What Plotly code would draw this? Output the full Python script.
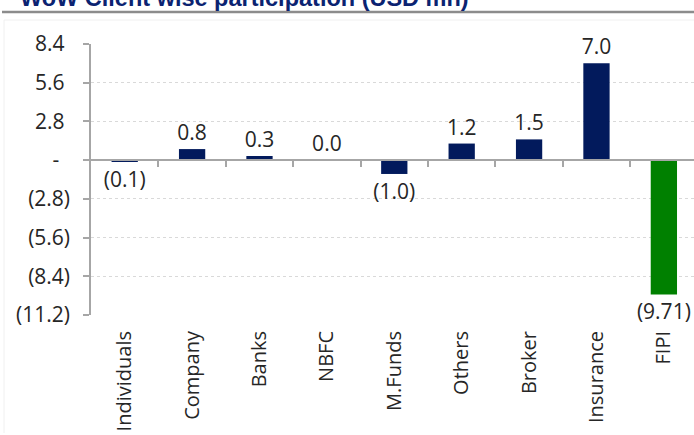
import plotly.graph_objects as go

# ---- data ----
categories = ["Individuals", "Company", "Banks", "NBFC", "M.Funds",
              "Others", "Broker", "Insurance", "FIPI"]
values = [-0.1, 0.8, 0.3, 0.0, -1.0, 1.2, 1.5, 7.0, -9.71]
decimals = [1, 1, 1, 1, 1, 1, 1, 1, 2]
ytick_vals = [8.4, 5.6, 2.8, 0, -2.8, -5.6, -8.4, -11.2]
ytick_text = ["8.4\u00a0", "5.6\u00a0", "2.8\u00a0", "-\u00a0\u00a0",
              "(2.8)", "(5.6)", "(8.4)", "(11.2)"]
title_text = "WoW Client wise participation (USD mn)"


def fmt(v, d):
    s = f"{abs(v):.{d}f}"
    return f"({s})" if v < 0 else s


labels = [fmt(v, d) for v, d in zip(values, decimals)]

NAVY = "#021a5c"
GREEN = "#008000"
colors = [GREEN if c == "FIPI" else NAVY for c in categories]
GREY = "#a6a6a6"
TXT = "#262626"
FONT = "Open Sans"

# pixel geometry
W, H = 694, 435
L, T, B = 91, 44, 120
PW, PH = W - L, H - T - B
ymin, ymax = -11.2, 8.4
zero_pos = (0 - ymin) / (ymax - ymin)

fig = go.Figure()
fig.add_trace(go.Bar(
    x=categories, y=values, marker=dict(color=colors, line=dict(width=0)),
    width=0.39, text=labels, textposition="outside", cliponaxis=False,
    constraintext="none",
    textfont=dict(family=FONT, size=21, color=TXT), hoverinfo="skip",
))
# invisible trace to carry the zero-line axis with its boundary ticks
fig.add_trace(go.Scatter(x=categories, y=[0] * len(categories), xaxis="x2",
                         mode="markers", marker=dict(opacity=0),
                         hoverinfo="skip", showlegend=False))

fig.update_layout(
    width=W, height=H,
    margin=dict(l=L, r=0, t=T, b=B, autoexpand=False),
    paper_bgcolor="white", plot_bgcolor="white",
    showlegend=False,
    font=dict(family=FONT, size=20, color=TXT),
    xaxis=dict(
        type="category", range=[-0.5, 8.447], showline=False, ticks="",
        showgrid=False, zeroline=False, tickangle=-90,
        tickfont=dict(family=FONT, size=20, color=TXT),
        ticklabelstandoff=11,
    ),
    xaxis2=dict(
        type="category", overlaying="x", matches="x", anchor="free",
        position=zero_pos, side="bottom",
        showline=True, linecolor=GREY, linewidth=1.5,
        ticks="outside", ticklen=6, tickwidth=1.5, tickcolor=GREY,
        tickmode="array", tickvals=[i + 0.5 for i in range(len(categories) - 1)],
        showticklabels=False, showgrid=False, zeroline=False,
    ),
    yaxis=dict(
        range=[ymin, ymax], tickmode="array", tickvals=ytick_vals,
        ticktext=ytick_text, showline=True, linecolor=GREY, linewidth=1.5,
        ticks="outside", ticklen=6, tickwidth=1.5, tickcolor=GREY,
        showgrid=True, gridcolor="#d9d9d9", gridwidth=1, griddash="dot",
        zeroline=False, tickfont=dict(family=FONT, size=21, color=TXT),
        ticklabelstandoff=9,
    ),
    annotations=[dict(
        text=f"<b>{title_text}</b>", xref="paper", yref="paper",
        x=(18 - L) / PW, y=1, xanchor="left", yanchor="bottom", yshift=31,
        showarrow=False,
        font=dict(family="Liberation Sans", size=23.5, color="#0b2371"),
    )],
    shapes=[
        dict(type="line", xref="paper", yref="paper",
             x0=(2 - L) / PW, x1=1, y0=1 + (T - 12) / PH, y1=1 + (T - 12) / PH,
             line=dict(color="#8c8c8c", width=2.5)),
        dict(type="line", xref="paper", yref="paper",
             x0=(4 - L) / PW, x1=1, y0=1 + (T - 20) / PH, y1=1 + (T - 20) / PH,
             line=dict(color="#f0f0f0", width=1)),
        dict(type="line", xref="paper", yref="paper",
             x0=(4 - L) / PW, x1=(4 - L) / PW, y0=1 + (T - 20) / PH,
             y1=-(B - 2) / PH, line=dict(color="#f0f0f0", width=1)),
    ],
)

fig.write_html("out.html", config={"displayModeBar": False},
               post_script="document.body.style.margin='0';"
                           "document.body.style.overflow='hidden';")
